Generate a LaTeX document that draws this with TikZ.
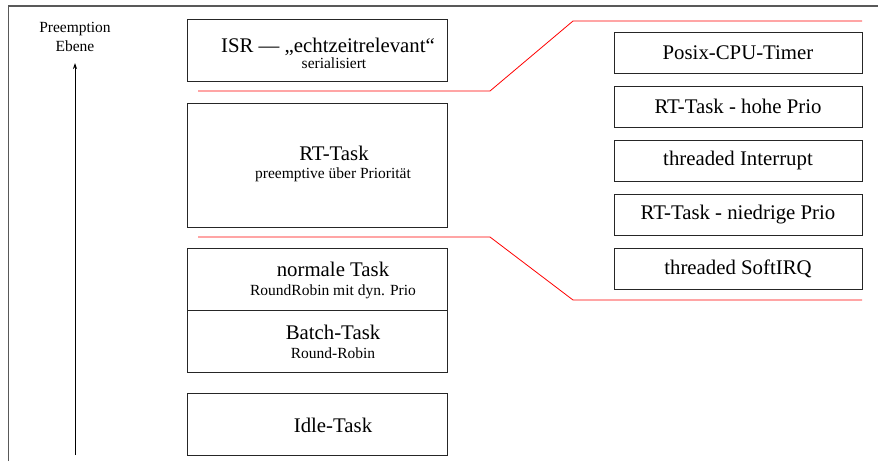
\documentclass[tikz,border=0pt]{standalone}
\usepackage{fontspec}
\setmainfont{Liberation Serif}
\usetikzlibrary{arrows.meta}
\begin{document}
\begin{tikzpicture}[x=1pt,y=-1pt,
  box/.style={draw=black!85, line width=0.9pt, inner sep=0pt},
  big/.style={font=\fontsize{20.8}{24}\selectfont, inner sep=0pt},
  small/.style={font=\fontsize{15.5}{17}\selectfont, inner sep=0pt},
  bigb/.style={big, anchor=base},
  smallb/.style={small, anchor=base},
  redline/.style={draw=red, line width=0.8pt},
  frameline/.style={draw=black!65, line width=1.1pt}]
\useasboundingbox (0,0) rectangle (878,461);
% frame
\draw[frameline] (8.5,461) -- (8.5,6) -- (878,6);
% axis
\node[smallb] (axlabelA) at (75,32) {Preemption};
\node[smallb] (axlabelB) at (75,51) {Ebene};
\coordinate (axbot) at (75,455);
\coordinate (axtop) at (75,63);
\draw[line width=0.8pt, -{Stealth[length=6pt,width=4pt]}] (axbot) -- (axtop);
% left boxes
\node[box, minimum width=260pt, minimum height=62pt] (isr) at (317,50) {};
\node[bigb] (isrT) at (328,52) {ISR — „echtzeitrelevant“};
\node[smallb] (isrS) at (334,68) {serialisiert};
\node[box, minimum width=260pt, minimum height=124pt] (rt) at (317,165) {};
\node[bigb] (rtT) at (334,160) {RT-Task};
\node[smallb] (rtS) at (333,178) {preemptive über Priorität};
\node[box, minimum width=260pt, minimum height=62pt] (norm) at (317,279) {};
\node[bigb] (normT) at (333,276) {normale Task};
\node[smallb] (normS) at (333,295) {RoundRobin mit dyn. Prio};
\node[box, minimum width=260pt, minimum height=62pt] (batch) at (317,341) {};
\node[bigb] (batchT) at (333,339) {Batch-Task};
\node[smallb] (batchS) at (333,358) {Round-Robin};
\node[box, minimum width=260pt, minimum height=62pt] (idle) at (317,424) {};
\node[bigb] (idleT) at (333,432) {Idle-Task};
% right boxes
\node[box, minimum width=248pt, minimum height=41pt, big] (posix) at (738,52.5) {Posix-CPU-Timer};
\node[box, minimum width=248pt, minimum height=41pt, big] (rthigh) at (738,106.5) {RT-Task - hohe Prio};
\node[box, minimum width=248pt, minimum height=41pt, big] (thirq) at (738,160.5) {threaded Interrupt};
\node[box, minimum width=248pt, minimum height=41pt, big] (rtlow) at (738,214.5) {RT-Task - niedrige Prio};
\node[box, minimum width=248pt, minimum height=41pt, big] (softirq) at (738,268.5) {threaded SoftIRQ};
% red separators
\draw[redline] (198,91) -- (490,91) -- (573,21) -- (862,21);
\draw[redline] (198,237) -- (490,237) -- (573,300) -- (862,300);
\end{tikzpicture}
\end{document}
